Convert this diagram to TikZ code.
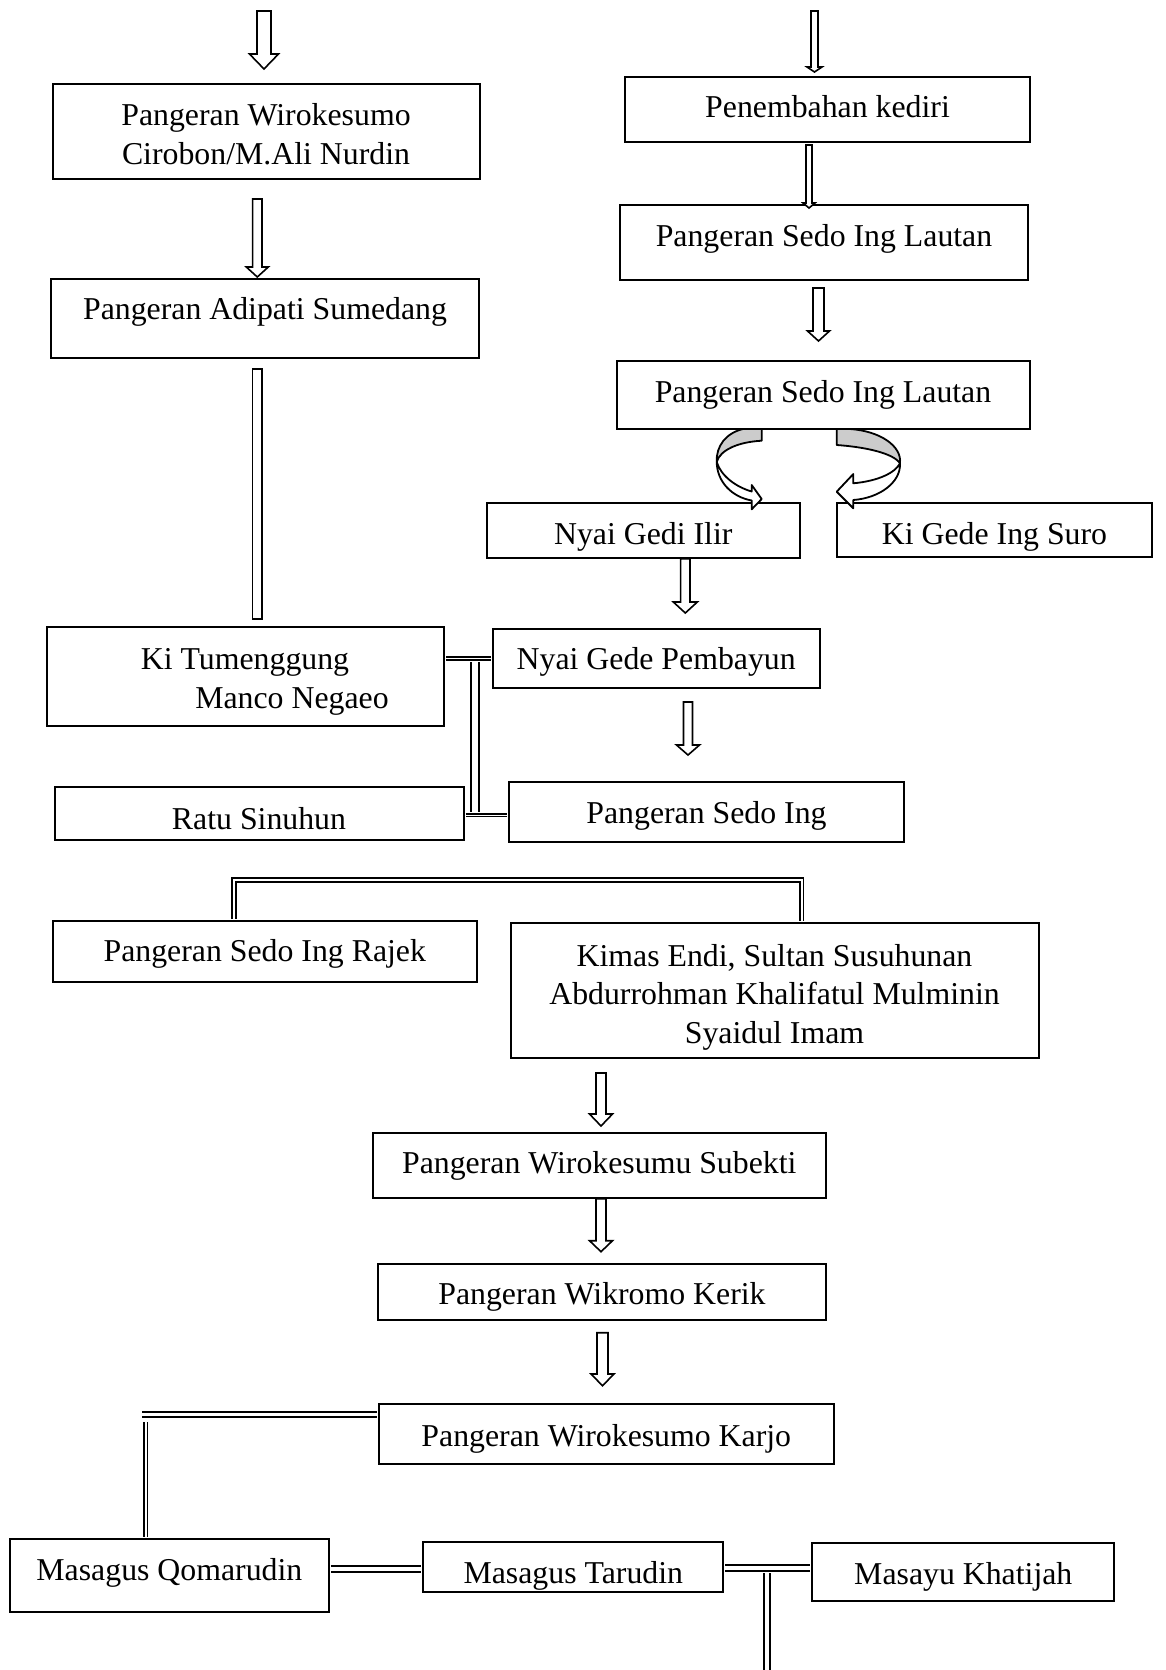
\documentclass[tikz,border=0pt]{standalone}
\usepackage{fontspec}
\setmainfont{Liberation Serif}
\usetikzlibrary{positioning, calc}
\definecolor{ribbon}{RGB}{204,204,204}

\newcommand{\blockarrow}[5]{%
	\draw[blk] let \p1=#1, \p2=#2 in
		(\x2-#3,\y1) -- (\x2+#3,\y1) -- (\x2+#3,\y2+#5) -- (\x2+#4,\y2+#5)
		-- (\x2,\y2) -- (\x2-#4,\y2+#5) -- (\x2-#3,\y2+#5) -- cycle;}

\tikzset{
	box/.style={draw, line width=2pt, inner sep=0pt, align=center,
		font=\fontsize{31.8pt}{38.5pt}\selectfont},
	tb/.style 2 args={text height=#1pt, text depth=#2pt},
	blk/.style={draw, line width=1.6pt, fill=white},
	dbl/.style={draw, double, line width=1.8pt, double distance=#1,
		shorten <=1pt, shorten >=1pt},
	dbl/.default=3pt,
	curv/.style={draw, line width=1.8pt, line join=round},
}

\begin{document}
\begin{tikzpicture}[x=1pt, y=-1pt]
\useasboundingbox (0,0) rectangle (1165,1670);

\node[box, minimum width=427pt, minimum height=95pt] (wiro) at (266,131.5)
	{\rule{0pt}{27pt}Pangeran Wirokesumo\\Cirobon/M.Ali Nurdin};
\node[box, tb={17.5}{15.5}, minimum width=428pt, minimum height=79pt] (sume) at (265,318.5)
	{Pangeran Adipati Sumedang};
\node[box, tb={24.5}{8.5}, minimum width=405pt, minimum height=65pt] (kediri) at (827.5,109.5)
	{Penembahan kediri};
\node[box, tb={20.5}{12.5}, minimum width=408pt, minimum height=75pt] (laut1) at (824,242.5)
	{Pangeran Sedo Ing Lautan};
\node[box, tb={23.7}{9.3}, minimum width=413pt, minimum height=68pt] (laut2) at (823,395)
	{Pangeran Sedo Ing Lautan};
\node[box, tb={30.7}{2.3}, minimum width=313pt, minimum height=55pt] (gedi) at (643.3,530.3)
	{Nyai Gedi Ilir};
\node[box, tb={31}{2}, minimum width=315pt, minimum height=54pt] (suro) at (994.5,530)
	{Ki Gede Ing Suro};
\node[box, minimum width=397pt, minimum height=99pt] (tumeng) at (245,676.5)
	{\rule{0pt}{32pt}Ki Tumenggung\\\hspace*{94pt}Manco Negaeo};
\node[box, tb={27.8}{5.2}, minimum width=327pt, minimum height=59pt] (pemba) at (656.2,658.5)
	{Nyai Gede Pembayun};
\node[box, tb={32.2}{0.8}, minimum width=409pt, minimum height=53pt] (ratu) at (259,813.5)
	{Ratu Sinuhun};
\node[box, tb={27.7}{5.3}, minimum width=395pt, minimum height=60pt] (sedoing) at (706.5,812)
	{Pangeran Sedo Ing};
\node[box, tb={26.5}{6.5}, minimum width=424pt, minimum height=61pt] (rajek) at (264.8,951.5)
	{Pangeran Sedo Ing Rajek};
\node[box, minimum width=528pt, minimum height=135pt] (kimas) at (774.5,990.5)
	{\rule{0pt}{35pt}Kimas Endi, Sultan Susuhunan\\Abdurrohman Khalifatul Mulminin\\Syaidul Imam};
\node[box, tb={24.5}{8.5}, minimum width=453pt, minimum height=65pt] (subekti) at (599.3,1165.2)
	{Pangeran Wirokesumu Subekti};
\node[box, tb={28.7}{4.3}, minimum width=448pt, minimum height=56pt] (kerik) at (602,1292)
	{Pangeran Wikromo Kerik};
\node[box, tb={29}{4}, minimum width=455pt, minimum height=60pt] (karjo) at (606.3,1434)
	{Pangeran Wirokesumo Karjo};
\node[box, tb={21.5}{11.5}, minimum width=319pt, minimum height=73pt] (qomar) at (169.4,1575.5)
	{Masagus Qomarudin};
\node[box, tb={32.7}{0.3}, minimum width=300pt, minimum height=50pt] (tarud) at (573.3,1567)
	{Masagus Tarudin};
\node[box, tb={29}{4}, minimum width=302pt, minimum height=58pt] (khati) at (963.3,1572)
	{Masayu Khatijah};

\coordinate (inL) at (264,11);
\coordinate (inR) at (814.5,11);
\blockarrow{(inL)}{($(wiro.north)+(-2,-14)$)}{7pt}{14.5pt}{15pt}
\blockarrow{($(wiro.south)+(0,19)$)}{($(sume.north)+(-7.7,-1)$)}{4.7pt}{11pt}{10pt}
\draw[blk] ($(sume.south)+(-12.4,10)$) rectangle ($(sume.south |- tumeng.north)+(-3,-7)$);
\blockarrow{(inR)}{($(kediri.north)+(-13,-4)$)}{3.5pt}{7.5pt}{5pt}
\blockarrow{($(kediri.south)+(0,2)$)}{($(laut1.north)+(-15,4)$)}{3pt}{6pt}{5pt}
\blockarrow{($(laut1.south)+(0,7)$)}{($(laut2.north)+(-4.5,-19)$)}{5.5pt}{11pt}{10pt}
\blockarrow{(gedi.south)}{($(pemba.north)+(29.1,-15)$)}{4.7pt}{12pt}{11pt}
\blockarrow{($(pemba.south)+(0,13)$)}{($(sedoing.north)+(-18.5,-26)$)}{4.5pt}{11.5pt}{10pt}
\blockarrow{($(kimas.south)+(0,14)$)}{($(subekti.north)+(1.7,-5.7)$)}{5pt}{11.5pt}{12pt}
\blockarrow{(subekti.south)}{($(kerik.north)+(-1,-11.3)$)}{5pt}{11.5pt}{11pt}
\blockarrow{($(kerik.south)+(0,11.7)$)}{($(karjo.north)+(-3.8,-17.3)$)}{5.5pt}{11.5pt}{11.7pt}

\draw[curv, fill=ribbon] (761.7,429) -- (761.7,440.7) .. controls (738,442) and (720,450) .. (716.7,462)
	.. controls (716,446) and (726,433) .. (743,429) -- cycle;
\draw[curv, fill=white] (716.7,462) .. controls (717,482) and (732,497) .. (751.7,500.5)
	-- (751.7,509.3) -- (761.7,499) -- (751.7,485) -- (751.7,491.5)
	.. controls (736,487) and (721,476) .. (716.7,462) -- cycle;
\draw[curv, fill=ribbon] (836.7,429) -- (836.7,445) .. controls (865,447) and (893,453) .. (900,463.3)
	.. controls (902,446) and (880,431) .. (850,429) -- cycle;
\draw[curv, fill=white] (900,463.3) .. controls (901,482) and (880,498) .. (853.3,500)
	-- (853.3,508.3) -- (836.7,491.7) -- (853.3,474) -- (853.3,483.3)
	.. controls (878,481) and (895,473) .. (900,463.3) -- cycle;

\coordinate (jt) at (475,661);
\coordinate (jb) at (475,813);
\draw[dbl=6pt] (jt) -- (jb);
\draw[dbl=1pt] (pemba.west) -- (pemba.west -| tumeng.east);
\draw[dbl=1pt] ([yshift=-1.5pt]ratu.east) -- ([yshift=-1.5pt]ratu.east -| sedoing.west);

\coordinate (brL) at (234,879.7);
\coordinate (brR) at (801.5,879.7);
\draw[dbl=2pt] (brL |- rajek.north) -- (brL) -- (brR) -- (brR |- kimas.north);

\coordinate (kq) at (141,1414.5);
\draw[dbl=2pt] (145.6,1421) -- (145.6,1421 |- qomar.north);
\draw[dbl=3pt] (karjo.west |- kq) -- (kq);
\draw[dbl=4pt] ([yshift=6.5pt]qomar.east) -- ([yshift=6.5pt]qomar.east -| tarud.west);
\coordinate (tj) at (766.8,1572);
\draw[dbl=4pt] (tj) -- (tj |- 0,1676);
\draw[dbl=4pt] ([yshift=-1pt]tarud.east) -- ([yshift=-1pt]tarud.east -| khati.west);
\end{tikzpicture}
\end{document}
